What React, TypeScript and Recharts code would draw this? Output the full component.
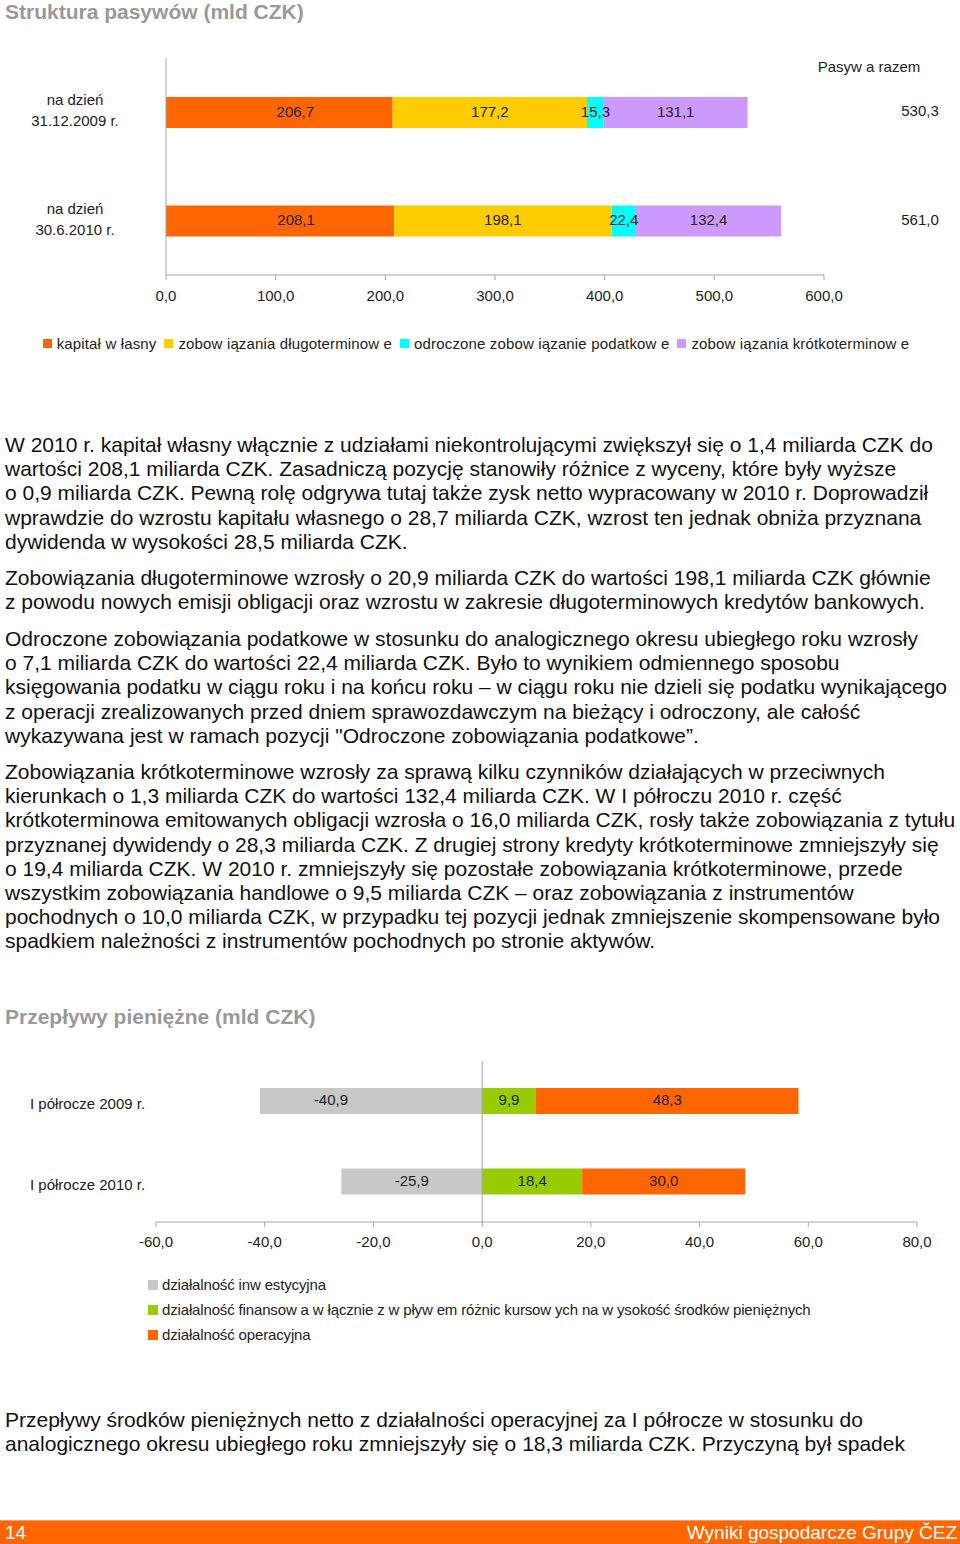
import React from 'react';
import { BarChart, Bar, XAxis, YAxis, Legend, LabelList, ReferenceLine, Label } from 'recharts';

// ---------- Chart 1: Struktura pasywów ----------
const liabCategories = ['na dzień|31.12.2009 r.', 'na dzień|30.6.2010 r.'];
const equity = [206.7, 208.1];
const longTerm = [177.2, 198.1];
const deferredTax = [15.3, 22.4];
const shortTerm = [131.1, 132.4];
const liabTotals = [530.3, 561.0];
const liabTicks = [0, 100, 200, 300, 400, 500, 600];
const liabSeries = [
  { key: 'equity', name: 'kapitał w łasny', color: '#FF6600' },
  { key: 'longTerm', name: 'zobow iązania długoterminow e', color: '#FFCC00' },
  { key: 'deferredTax', name: 'odroczone zobow iązanie podatkow e', color: '#00FFFF' },
  { key: 'shortTerm', name: 'zobow iązania krótkoterminow e', color: '#CC99FF' },
];

// ---------- Chart 2: Przepływy pieniężne ----------
const cfCategories = ['I półrocze 2009 r.', 'I półrocze 2010 r.'];
const investing = [-40.9, -25.9];
const financing = [9.9, 18.4];
const operating = [48.3, 30.0];
const cfTicks = [-60, -40, -20, 0, 20, 40, 60, 80];
const cfSeries = [
  { key: 'investing', name: 'działalność inw estycyjna', color: '#C8C8C8' },
  { key: 'financing', name: 'działalność finansow a w łącznie z w pływ em różnic kursow ych na w ysokość środków  pieniężnych', color: '#99CC00' },
  { key: 'operating', name: 'działalność operacyjna', color: '#FF6600' },
];

const liabData = liabCategories.map((name, i) => ({
  name,
  equity: equity[i],
  longTerm: longTerm[i],
  deferredTax: deferredTax[i],
  shortTerm: shortTerm[i],
  total: liabTotals[i],
}));

const cfData = cfCategories.map((name, i) => ({
  name,
  investing: investing[i],
  financing: financing[i],
  operating: operating[i],
}));

const FONT = '"Liberation Sans", Arial, Helvetica, sans-serif';
const fmt = (v: number) => v.toFixed(1).replace('.', ',');
const AXIS = '#A6A6A6';
const FS = 15;

const LiabTick = (props: any) => {
  const { y, payload } = props;
  const [a, b] = String(payload.value).split('|');
  return (
    <text x={75} y={y} textAnchor="middle" fontSize={FS} fill="#222" fontFamily={FONT}>
      <tspan x={75} dy={-7}>{a}</tspan>
      <tspan x={75} dy={21}>{b}</tspan>
    </text>
  );
};

const TotalTick = (props: any) => {
  const { y, index } = props;
  return (
    <text x={920} y={y + 4} textAnchor="middle" fontSize={FS} fill="#222" fontFamily={FONT}>
      {fmt(liabTotals[index])}
    </text>
  );
};

const CfTick = (props: any) => {
  const { y, payload } = props;
  return (
    <text x={30} y={y + 8} textAnchor="start" fontSize={FS} fill="#222" fontFamily={FONT}>
      {payload.value}
    </text>
  );
};

// label renderer centred in the bar segment, with an optional horizontal nudge
const makeLabel = (shift: (i: number) => number) => (p: any) => {
  const { x, y, width, height, value, index } = p;
  return (
    <text
      x={x + width / 2 + shift(index)}
      y={y + height / 2}
      dy={4}
      textAnchor="middle"
      fontSize={FS}
      fill="#222"
      fontFamily={FONT}
    >
      {fmt(Number(value))}
    </text>
  );
};

const LiabLegend = () => (
  <div style={{ display: 'flex', justifyContent: 'center', alignItems: 'center', height: 24, fontFamily: FONT, fontSize: FS, color: '#222', whiteSpace: 'nowrap' }}>
    {liabSeries.map((s) => (
      <span key={s.key} style={{ display: 'inline-flex', alignItems: 'center', marginRight: 8 }}>
        <span style={{ display: 'inline-block', width: 9, height: 9, background: s.color, marginRight: 5 }} />
        <span style={{ letterSpacing: 0.15 }}>{s.name}</span>
      </span>
    ))}
  </div>
);

const CfLegend = () => (
  <div style={{ paddingLeft: 138, fontFamily: FONT, fontSize: FS, color: '#222', whiteSpace: 'nowrap' }}>
    {cfSeries.map((s) => (
      <div key={s.key} style={{ display: 'flex', alignItems: 'center', height: 25 }}>
        <span style={{ display: 'inline-block', width: 10, height: 10, background: s.color, marginRight: 4 }} />
        <span style={{ letterSpacing: -0.15 }}>{s.name}</span>
      </div>
    ))}
  </div>
);

const Title = ({ top, children }: { top: number; children: React.ReactNode }) => (
  <div style={{ position: 'absolute', left: 5, top, fontFamily: FONT, fontWeight: 'bold', fontSize: 21, lineHeight: '24px', color: '#999999', whiteSpace: 'nowrap' }}>
    {children}
  </div>
);

const Para = ({ top, lines }: { top: number; lines: string[] }) => (
  <div style={{ position: 'absolute', left: 5, top, fontFamily: FONT, fontSize: 21, lineHeight: '24.2px', color: '#111', whiteSpace: 'nowrap' }}>
    {lines.map((l, i) => (
      <div key={i}>{l}</div>
    ))}
  </div>
);

const p1 = [
  'W 2010 r. kapitał własny włącznie z udziałami niekontrolującymi zwiększył się o 1,4 miliarda CZK do',
  'wartości 208,1 miliarda CZK. Zasadniczą pozycję stanowiły różnice z wyceny, które były wyższe',
  'o 0,9 miliarda CZK. Pewną rolę odgrywa tutaj także zysk netto wypracowany w 2010 r. Doprowadził',
  'wprawdzie do wzrostu kapitału własnego o 28,7 miliarda CZK, wzrost ten jednak obniża przyznana',
  'dywidenda w wysokości 28,5 miliarda CZK.',
];
const p2 = [
  'Zobowiązania długoterminowe wzrosły o 20,9 miliarda CZK do wartości 198,1 miliarda CZK głównie',
  'z powodu nowych emisji obligacji oraz wzrostu w zakresie długoterminowych kredytów bankowych.',
];
const p3 = [
  'Odroczone zobowiązania podatkowe w stosunku do analogicznego okresu ubiegłego roku wzrosły',
  'o 7,1 miliarda CZK do wartości 22,4 miliarda CZK. Było to wynikiem odmiennego sposobu',
  'księgowania podatku w ciągu roku i na końcu roku – w ciągu roku nie dzieli się podatku wynikającego',
  'z operacji zrealizowanych przed dniem sprawozdawczym na bieżący i odroczony, ale całość',
  'wykazywana jest w ramach pozycji "Odroczone zobowiązania podatkowe”.',
];
const p4 = [
  'Zobowiązania krótkoterminowe wzrosły za sprawą kilku czynników działających w przeciwnych',
  'kierunkach o 1,3 miliarda CZK do wartości 132,4 miliarda CZK. W I półroczu 2010 r. część',
  'krótkoterminowa emitowanych obligacji wzrosła o 16,0 miliarda CZK, rosły także zobowiązania z tytułu',
  'przyznanej dywidendy o 28,3 miliarda CZK. Z drugiej strony kredyty krótkoterminowe zmniejszyły się',
  'o 19,4 miliarda CZK. W 2010 r. zmniejszyły się pozostałe zobowiązania krótkoterminowe, przede',
  'wszystkim zobowiązania handlowe o 9,5 miliarda CZK – oraz zobowiązania z instrumentów',
  'pochodnych o 10,0 miliarda CZK, w przypadku tej pozycji jednak zmniejszenie skompensowane było',
  'spadkiem należności z instrumentów pochodnych po stronie aktywów.',
];
const p5 = [
  'Przepływy środków pieniężnych netto z działalności operacyjnej za I półrocze w stosunku do',
  'analogicznego okresu ubiegłego roku zmniejszyły się o 18,3 miliarda CZK. Przyczyną był spadek',
];

const liabShift = (key: string) => (i: number) => (key === 'equity' ? 16 : 0);
const cfShift = (key: string) => (i: number) => (key === 'investing' && i === 0 ? -40 : 0);

export default function App() {
  return (
    <div style={{ position: 'absolute', left: 0, top: 0, width: 960, height: 1544, background: '#fff', overflow: 'hidden' }}>
      <Title top={0}>Struktura pasywów (mld CZK)</Title>

      <div style={{ position: 'absolute', left: 0, top: 0 }}>
        <BarChart
          width={960}
          height={370}
          data={liabData}
          layout="vertical"
          margin={{ top: 58, right: 10, bottom: 15, left: 10 }}
          barSize={31}
        >
          <XAxis
            type="number"
            domain={[0, 600]}
            ticks={liabTicks}
            tickFormatter={fmt}
            interval={0}
            height={56}
            stroke={AXIS}
            tickSize={5}
            tickMargin={10}
            tick={{ fill: '#222', fontSize: FS, fontFamily: FONT }}
          />
          <YAxis
            yAxisId={0}
            type="category"
            dataKey="name"
            width={156}
            stroke={AXIS}
            tickLine={false}
            tick={<LiabTick />}
          />
          <YAxis
            yAxisId="right"
            orientation="right"
            type="category"
            dataKey="name"
            width={126}
            axisLine={false}
            tickLine={false}
            tick={<TotalTick />}
          >
            <Label
              content={(p: any) => (
                <text x={p.viewBox.x + 45} y={p.viewBox.y + 14} textAnchor="middle" fontSize={FS} fill="#222" fontFamily={FONT}>
                  Pasyw a razem
                </text>
              )}
            />
          </YAxis>
          {liabSeries.map((s) => (
            <Bar key={s.key} dataKey={s.key} name={s.name} stackId="a" fill={s.color} isAnimationActive={false}>
              <LabelList dataKey={s.key} content={makeLabel(liabShift(s.key))} />
            </Bar>
          ))}
          <Legend verticalAlign="bottom" height={24} content={<LiabLegend />} />
        </BarChart>
      </div>

      <Para top={433} lines={p1} />
      <Para top={566} lines={p2} />
      <Para top={627} lines={p3} />
      <Para top={760} lines={p4} />

      <Title top={1005}>Przepływy pieniężne (mld CZK)</Title>

      <div style={{ position: 'absolute', left: 0, top: 1040 }}>
        <BarChart
          width={960}
          height={320}
          data={cfData}
          layout="vertical"
          stackOffset="sign"
          margin={{ top: 21, right: 43, bottom: 13, left: 10 }}
          barSize={26}
        >
          <XAxis
            type="number"
            domain={[-60, 80]}
            ticks={cfTicks}
            tickFormatter={fmt}
            interval={0}
            height={50}
            stroke={AXIS}
            tickSize={5}
            tickMargin={9}
            tick={{ fill: '#222', fontSize: FS, fontFamily: FONT }}
          />
          <YAxis
            type="category"
            dataKey="name"
            width={146}
            axisLine={false}
            tickLine={false}
            tick={<CfTick />}
          />
          <ReferenceLine x={0} stroke={AXIS} ifOverflow="extendDomain" />
          {cfSeries.map((s) => (
            <Bar key={s.key} dataKey={s.key} name={s.name} stackId="cf" fill={s.color} isAnimationActive={false}>
              <LabelList dataKey={s.key} content={makeLabel(cfShift(s.key))} />
            </Bar>
          ))}
          <Legend verticalAlign="bottom" height={75} content={<CfLegend />} />
        </BarChart>
      </div>

      <Para top={1408} lines={p5} />

      <div style={{ position: 'absolute', left: 0, top: 1520, width: 960, height: 24, background: '#FF6600', borderTop: '1px solid #FF9955', boxSizing: 'border-box', fontFamily: FONT, color: '#fff', fontSize: 19, lineHeight: '23px' }}>
        <span style={{ position: 'absolute', left: 5 }}>14</span>
        <span style={{ position: 'absolute', right: 3 }}>Wyniki gospodarcze Grupy ČEZ</span>
      </div>
    </div>
  );
}
